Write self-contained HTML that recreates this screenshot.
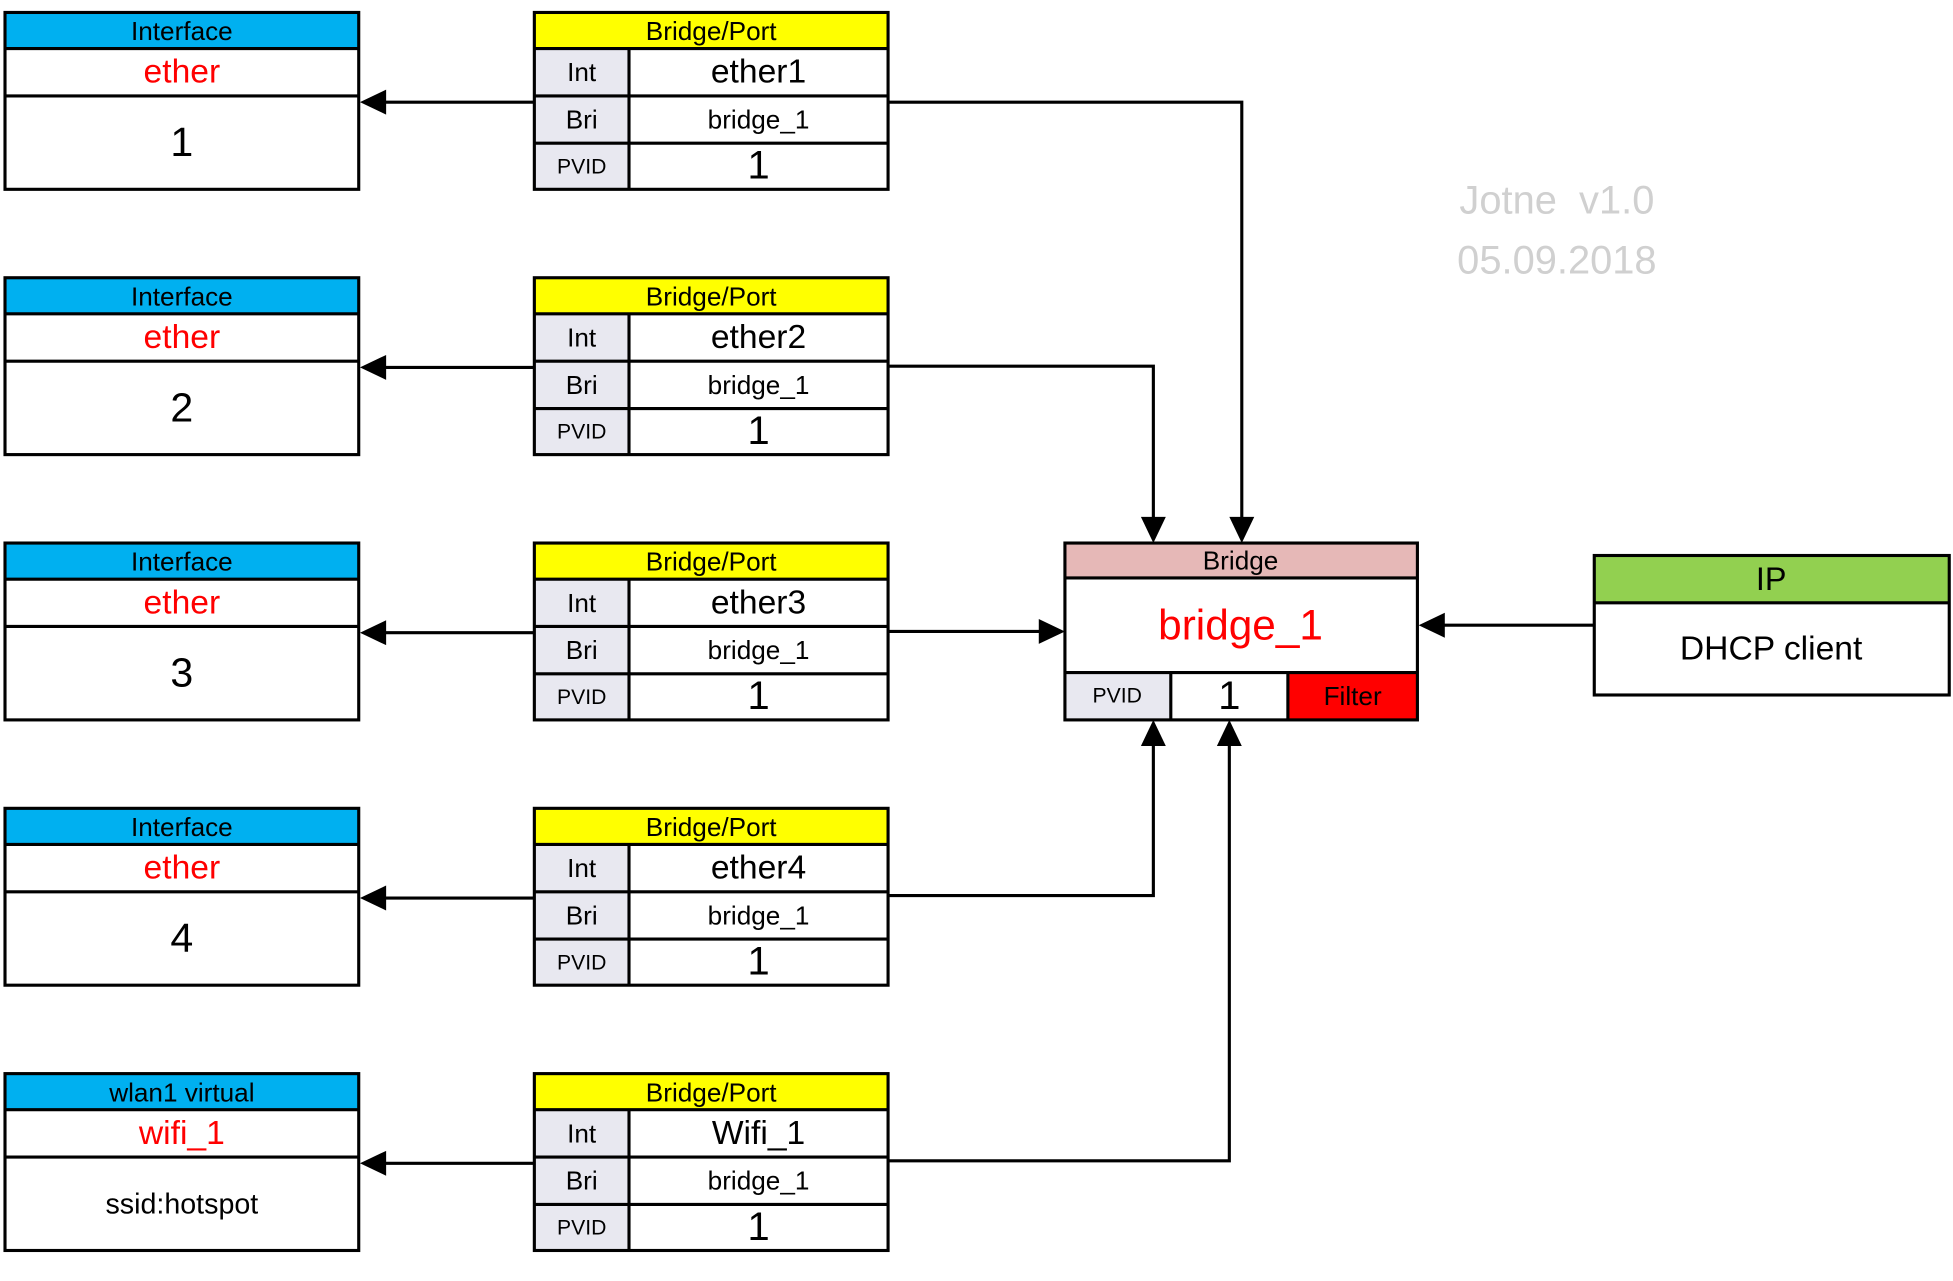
<!DOCTYPE html>
<html><head><meta charset="utf-8"><style>
html,body{margin:0;padding:0;background:#fff;}
svg{display:block;}
text{font-family:"Liberation Sans",sans-serif;text-anchor:middle;dominant-baseline:central;}
</style></head><body>
<svg width="1953" height="1281" viewBox="0 0 1568 1028.5" xmlns="http://www.w3.org/2000/svg">
<defs>
<g id="iface">
<rect x="4" y="10" width="284" height="29" fill="#00b0f0"/>
<rect x="4" y="10" width="284" height="142" fill="none" stroke="#000" stroke-width="2.5"/>
<line x1="4" y1="39" x2="288" y2="39" stroke="#000" stroke-width="2.5"/>
<line x1="4" y1="77" x2="288" y2="77" stroke="#000" stroke-width="2.5"/>
<path d="M429 82 L308 82" stroke="#000" stroke-width="2.5"/>
<polygon points="289,82 310,72 310,92" fill="#000"/>
</g>
<g id="port">
<rect x="429" y="10" width="284" height="29" fill="#ffff00"/>
<rect x="429" y="39" width="76" height="113" fill="#e8e8f0"/>
<rect x="429" y="10" width="284" height="142" fill="none" stroke="#000" stroke-width="2.5"/>
<line x1="429" y1="39" x2="713" y2="39" stroke="#000" stroke-width="2.5"/>
<line x1="429" y1="77" x2="713" y2="77" stroke="#000" stroke-width="2.5"/>
<line x1="429" y1="115" x2="713" y2="115" stroke="#000" stroke-width="2.5"/>
<line x1="505" y1="39" x2="505" y2="152" stroke="#000" stroke-width="2.5"/>
<text x="571" y="25" font-size="21">Bridge/Port</text>
<text x="467" y="58" font-size="21">Int</text>
<text x="467" y="96" font-size="21">Bri</text>
<text x="467" y="134" font-size="17">PVID</text>
<text x="609" y="96" font-size="21">bridge_1</text>
<text x="609" y="133" font-size="32">1</text>
</g>
</defs>

<!-- row 1 -->
<use href="#iface"/><use href="#port"/>
<text x="146" y="25" font-size="21">Interface</text>
<text x="146" y="58" font-size="27" fill="#ff0000">ether</text>
<text x="146" y="114" font-size="33">1</text>
<text x="609" y="58" font-size="27">ether1</text>

<!-- row 2 -->
<g transform="translate(0,213)"><use href="#iface"/><use href="#port"/>
<text x="146" y="25" font-size="21">Interface</text>
<text x="146" y="58" font-size="27" fill="#ff0000">ether</text>
<text x="146" y="114" font-size="33">2</text>
<text x="609" y="58" font-size="27">ether2</text></g>

<!-- row 3 -->
<g transform="translate(0,426)"><use href="#iface"/><use href="#port"/>
<text x="146" y="25" font-size="21">Interface</text>
<text x="146" y="58" font-size="27" fill="#ff0000">ether</text>
<text x="146" y="114" font-size="33">3</text>
<text x="609" y="58" font-size="27">ether3</text></g>

<!-- row 4 -->
<g transform="translate(0,639)"><use href="#iface"/><use href="#port"/>
<text x="146" y="25" font-size="21">Interface</text>
<text x="146" y="58" font-size="27" fill="#ff0000">ether</text>
<text x="146" y="114" font-size="33">4</text>
<text x="609" y="58" font-size="27">ether4</text></g>

<!-- row 5 -->
<g transform="translate(0,852)"><use href="#iface"/><use href="#port"/>
<text x="146" y="25" font-size="21">wlan1 virtual</text>
<text x="146" y="58" font-size="27" fill="#ff0000">wifi_1</text>
<text x="146" y="115" font-size="23">ssid:hotspot</text>
<text x="609" y="58" font-size="27">Wifi_1</text></g>

<!-- connectors -->
<g stroke="#000" stroke-width="2.5" fill="none">
<path d="M713 82 H997 V416"/>
<path d="M713 294 H926 V416"/>
<path d="M713 507 H835"/>
<path d="M713 719 H926 V598"/>
<path d="M713 932 H987 V598"/>
<path d="M1280 502 H1158"/>
</g>
<g fill="#000">
<polygon points="997,436 987,415 1007,415"/>
<polygon points="926,436 916,415 936,415"/>
<polygon points="855,507 834,497 834,517"/>
<polygon points="926,578 916,599 936,599"/>
<polygon points="987,578 977,599 997,599"/>
<polygon points="1139,502 1160,492 1160,512"/>
</g>

<!-- bridge -->
<rect x="855" y="436" width="283" height="28" fill="#e6b8b7"/>
<rect x="855" y="540" width="85" height="38" fill="#e8e8f0"/>
<rect x="1034" y="540" width="104" height="38" fill="#ff0000"/>
<g stroke="#000" stroke-width="2.5" fill="none">
<rect x="855" y="436" width="283" height="142"/>
<line x1="855" y1="464" x2="1138" y2="464"/>
<line x1="855" y1="540" x2="1138" y2="540"/>
<line x1="940" y1="540" x2="940" y2="578"/>
<line x1="1034" y1="540" x2="1034" y2="578"/>
</g>
<text x="996" y="450" font-size="21">Bridge</text>
<text x="996" y="502" font-size="34" fill="#ff0000">bridge_1</text>
<text x="897" y="559" font-size="17">PVID</text>
<text x="987" y="559" font-size="32">1</text>
<text x="1086" y="559" font-size="21">Filter</text>

<!-- IP -->
<rect x="1280" y="446" width="285" height="38" fill="#92d050"/>
<g stroke="#000" stroke-width="2.5" fill="none">
<rect x="1280" y="446" width="285" height="112"/>
<line x1="1280" y1="484" x2="1565" y2="484"/>
</g>
<text x="1422" y="465" font-size="26">IP</text>
<text x="1422" y="521" font-size="27">DHCP client</text>

<!-- watermark -->
<text x="1250" y="161" font-size="32" fill="#d0d0d0" xml:space="preserve">Jotne  v1.0</text>
<text x="1250" y="209" font-size="32" fill="#d0d0d0">05.09.2018</text>
</svg>
</body></html>
